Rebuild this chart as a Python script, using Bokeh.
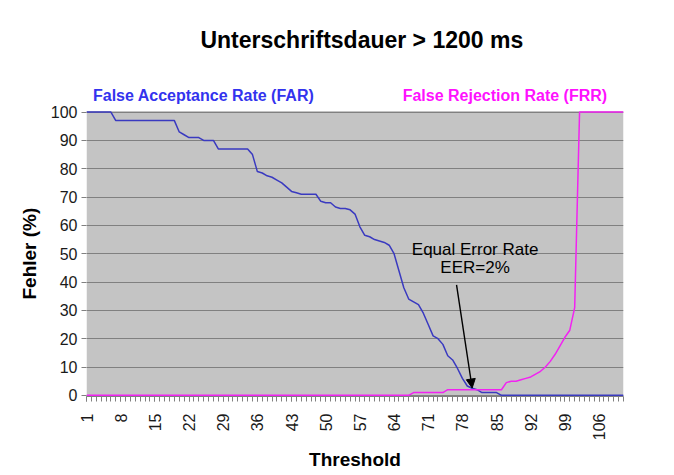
import math
from bokeh.plotting import figure
from bokeh.models import (ColumnDataSource, FixedTicker, Range1d, Label, Arrow,
                          NormalHead, BoxAnnotation, Title)
from bokeh.embed import file_html
from bokeh.resources import INLINE

# ---------------- data ----------------
threshold = list(range(1, 112))

far = ([100] * 6 + [97] * 13 + [93, 92] + [91] * 3 + [90] * 3 + [87] * 7 +
       [85, 79, 78.5, 77.5, 77, 76, 75, 73.5, 72, 71.5] + [71] * 4 +
       [68.5, 68, 68, 66.5, 66, 66, 65.5, 64, 59.5, 56.5, 56, 55, 54.5, 54,
        53, 50, 44, 38, 34, 33, 32, 29, 25, 21, 20, 18, 14, 12.5, 9.5, 6,
        3.3, 2.5, 2] + [1] * 4 + [0] * 26)

frr = ([0] * 67 + [1] * 7 + [2] * 12 + [4.5, 5, 5] +
       [5.5, 6, 6.5, 7.5, 8.5, 10, 12, 14.5, 17.5, 20.5, 23, 31] + [100] * 10)

x_tick_values = [1, 8, 15, 22, 29, 36, 43, 50, 57, 64, 71, 78, 85, 92, 99, 106]
y_tick_values = [0, 10, 20, 30, 40, 50, 60, 70, 80, 90, 100]

title_text = "Unterschriftsdauer > 1200 ms"
far_label = "False Acceptance Rate (FAR)"
frr_label = "False Rejection Rate (FRR)"
x_label = "Threshold"
y_label = "Fehler (%)"
eer_lines = ["Equal Error Rate", "EER=2%"]

FONT = "Liberation Sans"
FAR_COLOR = "#3a3ac0"
FRR_COLOR = "#f222f2"
PLOT_BG = "#c4c4c4"
GRID = "#808080"

src = ColumnDataSource(dict(t=threshold, far=far, frr=frr))

# frame spans the whole top of the canvas so titles can live inside it
p = figure(width=672, height=473, output_backend="svg", toolbar_location=None,
           title=None,
           x_range=Range1d(1, 111), y_range=Range1d(-0.4, 139.4),
           min_border_left=86, min_border_right=49, min_border_top=0,
           min_border_bottom=76)
p.background_fill_color = "white"
p.border_fill_color = "white"
p.outline_line_color = None

# gray plot area (0..100 band)
p.add_layout(BoxAnnotation(left=1, right=111, bottom=-0.4, top=100.4,
                           fill_color=PLOT_BG, fill_alpha=1.0,
                           line_color=None, level="image"))

p.line("t", "far", source=src, line_color=FAR_COLOR, line_width=1.5)
p.line("t", "frr", source=src, line_color=FRR_COLOR, line_width=1.5)

# axes
p.xaxis.ticker = FixedTicker(ticks=x_tick_values, minor_ticks=threshold)
p.yaxis.ticker = FixedTicker(ticks=y_tick_values)
p.xaxis.major_label_orientation = math.pi / 2
for ax in (p.xaxis[0], p.yaxis[0]):
    ax.axis_line_color = "#808080"
    ax.major_tick_line_color = "#808080"
    ax.minor_tick_line_color = "#808080"
    ax.major_tick_in = 0
    ax.minor_tick_in = 0
    ax.major_tick_out = 5
    ax.minor_tick_out = 5
    ax.major_label_text_font = FONT
    ax.major_label_text_font_size = "16px"
    ax.major_label_text_color = "#1a1a1a"
    ax.axis_label_text_font = FONT
    ax.axis_label_text_font_size = "19px"
    ax.axis_label_text_font_style = "bold"
    ax.axis_label_text_color = "black"
p.yaxis.axis_line_color = None
p.yaxis.minor_tick_line_color = None
p.xaxis.major_label_standoff = 12
p.yaxis.major_label_standoff = 4
p.xaxis.axis_label = x_label
p.xaxis.axis_label_standoff = 6

# y label as a left-side title so it can be centred on the 0..100 band
p.add_layout(Title(text=y_label, align="left", offset=97, standoff=15,
                   text_font=FONT, text_font_size="19px",
                   text_font_style="bold", text_color="black"), "left")

p.xgrid.grid_line_color = None
p.ygrid.grid_line_color = GRID
p.ygrid.grid_line_width = 1

def add_label(x, y, text, size, color="black", bold=False):
    p.add_layout(Label(x=x, y=y, text=text, text_font=FONT,
                       text_font_size=size, text_color=color,
                       text_font_style="bold" if bold else "normal",
                       text_align="center", text_baseline="middle"))

add_label(57.4, 125.4, title_text, "23px", bold=True)
add_label(25.0, 106.0, far_label, "16px", color="#3333ee", bold=True)
add_label(86.7, 106.0, frr_label, "16px", color="#ff11ff", bold=True)
add_label(80.6, 51.4, eer_lines[0], "17px")
add_label(80.6, 45.1, eer_lines[1], "17px")

p.add_layout(Arrow(end=NormalHead(size=9, fill_color="black",
                                  line_color="black", line_width=1),
                   x_start=76.8, y_start=39.0, x_end=80.0, y_end=2.6,
                   line_color="black", line_width=1.4))

open("out.html", "w").write(file_html(p, INLINE))
